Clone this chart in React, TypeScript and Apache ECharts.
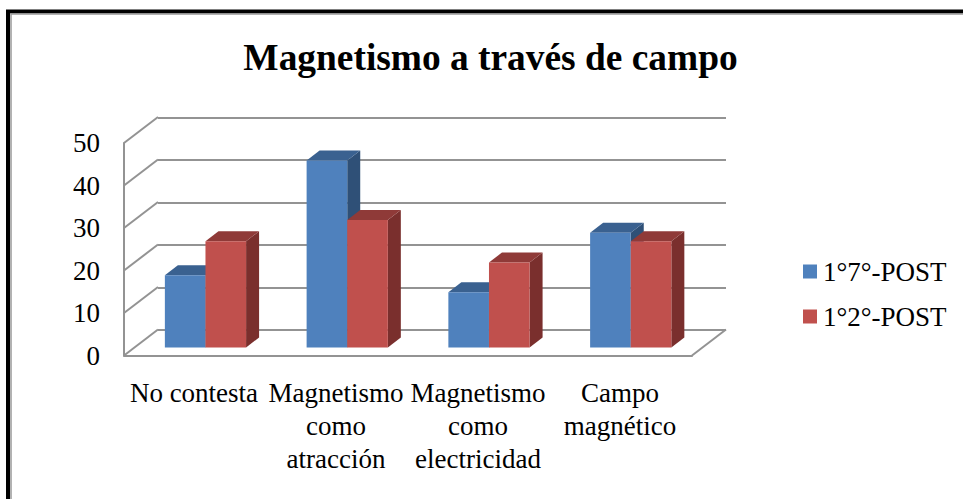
import React, { useEffect, useRef } from "react";
import * as echarts from "echarts";

const titleText = "Magnetismo a través de campo";
const categories = ["No contesta", "Magnetismo\ncomo\natracción", "Magnetismo\ncomo\nelectricidad", "Campo\nmagnético"];
const seriesNames = ["1°7°-POST", "1°2°-POST"];
const valuesA = [17, 44, 13, 27];
const valuesB = [25, 30, 20, 25];
const valueTicks = [0, 10, 20, 30, 40, 50];
const SERIF = "'Liberation Serif'";
const GRID_LINE = "#939393";
const GRID_WIDTH = 2;

const barDepth = { dx: 13, dy: -10 };
const wallDepth = { dx: 34, dy: -26 };

function bar3D(colors: string[], slot: number) {
  return (params: any, api: any) => {
    const i = api.value(0);
    const v = api.value(1);
    const band = api.size([1, 0])[0];
    const barW = band * 0.2865;
    const c = api.coord([i, v]);
    const b = api.coord([i, 0]);
    const x0 = c[0] + (slot - 1) * barW;
    const x1 = x0 + barW;
    const { dx, dy } = barDepth;
    return {
      type: "group",
      children: [
        { type: "polygon", shape: { points: [[x1, c[1]], [x1 + dx, c[1] + dy], [x1 + dx, b[1] + dy], [x1, b[1]]] }, style: { fill: colors[2] } },
        { type: "polygon", shape: { points: [[x0, c[1]], [x0 + dx, c[1] + dy], [x1 + dx, c[1] + dy], [x1, c[1]]] }, style: { fill: colors[1] } },
        { type: "rect", shape: { x: x0, y: c[1], width: barW, height: b[1] - c[1] }, style: { fill: colors[0] } },
      ],
    };
  };
}

export default function App() {
  const ref = useRef<HTMLDivElement>(null);
  useEffect(() => {
    const chart = echarts.init(ref.current!, undefined, { renderer: "svg" });
    const frontGrid = { left: 124, width: 568, top: 143, height: 212.5 };
    const option: any = {
      animation: false,
      backgroundColor: "#ffffff",
      title: {
        text: titleText,
        left: 485.5,
        top: 34,
        textAlign: "center",
        textStyle: { fontFamily: SERIF, fontSize: 37.4, fontWeight: "bold", color: "#000" },
      },
      legend: {
        orient: "vertical",
        left: 798,
        top: 253,
        itemWidth: 14,
        itemHeight: 14,
        itemGap: 18,
        icon: "rect",
        data: seriesNames,
        textStyle: { fontFamily: SERIF, fontSize: 27, color: "#000", padding: [0, 0, 0, 1] },
      },
      grid: [
        { ...frontGrid },
        { left: 158, width: 568, top: 117.5, height: 212.5 },
        { left: 134.6, width: 567, top: 135, height: 212.5 },
      ],
      xAxis: [
        {
          gridIndex: 0, type: "category", data: categories,
          axisTick: { show: false },
          axisLine: { lineStyle: { color: GRID_LINE, width: GRID_WIDTH } },
          axisLabel: { fontFamily: SERIF, fontSize: 27, color: "#000", lineHeight: 33, margin: 21, interval: 0, padding: [0, 2, 0, 0] },
        },
        { gridIndex: 1, type: "category", data: categories, show: false },
        { gridIndex: 2, type: "category", data: categories, show: false },
      ],
      yAxis: [
        {
          gridIndex: 0, type: "value", min: 0, max: 50, interval: 10,
          axisLine: { show: true, lineStyle: { color: GRID_LINE, width: GRID_WIDTH } },
          axisTick: { show: false },
          splitLine: { show: false },
          axisLabel: { fontFamily: SERIF, fontSize: 27, color: "#000", margin: 24 },
        },
        {
          gridIndex: 1, type: "value", min: 0, max: 50, interval: 10,
          axisLine: { show: false }, axisTick: { show: false }, axisLabel: { show: false },
          splitLine: { show: true, lineStyle: { color: GRID_LINE, width: GRID_WIDTH } },
        },
        {
          gridIndex: 2, type: "value", min: 0, max: 50, interval: 10,
          axisLine: { show: false }, axisTick: { show: false }, axisLabel: { show: false }, splitLine: { show: false },
        },
      ],
      series: [
        {
          type: "custom", xAxisIndex: 0, yAxisIndex: 0, silent: true, z: 1,
          coordinateSystem: "cartesian2d",
          data: valueTicks.map((t) => [0, t]),
          encode: { x: 0, y: 1 },
          renderItem: (params: any, api: any) => {
            const p = api.coord([0, api.value(1)]);
            const band = api.size([1, 0])[0];
            return {
              type: "line",
              shape: { x1: p[0] - band / 2, y1: p[1], x2: p[0] - band / 2 + wallDepth.dx, y2: p[1] + wallDepth.dy },
              style: { stroke: GRID_LINE, lineWidth: GRID_WIDTH },
            };
          },
        },
        {
          type: "custom", xAxisIndex: 0, yAxisIndex: 0, silent: true, z: 1,
          data: [[3, 0]],
          encode: { x: 0, y: 1 },
          renderItem: (params: any, api: any) => {
            const p = api.coord([3, 0]);
            const band = api.size([1, 0])[0];
            return {
              type: "line",
              shape: { x1: p[0] + band / 2, y1: p[1], x2: p[0] + band / 2 + wallDepth.dx, y2: p[1] + wallDepth.dy },
              style: { stroke: GRID_LINE, lineWidth: GRID_WIDTH },
            };
          },
        },
        {
          name: seriesNames[0], type: "custom", xAxisIndex: 2, yAxisIndex: 2, z: 5,
          itemStyle: { color: "#4F81BD" },
          data: valuesA.map((v, i) => [i, v]),
          encode: { x: 0, y: 1 },
          renderItem: bar3D(["#4F81BD", "#3A6190", "#2F5077"], 0),
        },
        {
          name: seriesNames[1], type: "custom", xAxisIndex: 2, yAxisIndex: 2, z: 6,
          itemStyle: { color: "#C0504D" },
          data: valuesB.map((v, i) => [i, v]),
          encode: { x: 0, y: 1 },
          renderItem: bar3D(["#C0504D", "#8F3A38", "#7A2F2D"], 1),
        },
      ],
      graphic: [
        { type: "rect", silent: true, z: 100, shape: { x: 8, y: 11.5, width: 980, height: 600 }, style: { fill: "none", stroke: "#000", lineWidth: 4 } },
        { type: "rect", silent: true, z: 100, shape: { x: 11, y: 14, width: 980, height: 600 }, style: { fill: "none", stroke: "#999", lineWidth: 1.5 } },
      ],
    };
    chart.setOption(option);
    return () => chart.dispose();
  }, []);
  return <div ref={ref} style={{ position: "fixed", left: 0, top: 0, width: 963, height: 499 }} />;
}
